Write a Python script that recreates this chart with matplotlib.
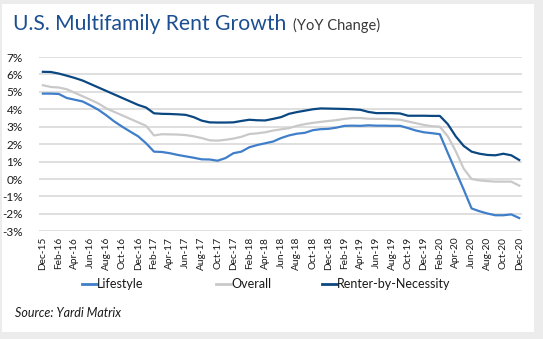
import matplotlib
matplotlib.use("Agg")
import matplotlib.pyplot as plt
from matplotlib.patches import Rectangle
from matplotlib.lines import Line2D

# Monthly YoY rent growth (%), Dec-15 .. Dec-20
month_names = ["Jan", "Feb", "Mar", "Apr", "May", "Jun",
               "Jul", "Aug", "Sep", "Oct", "Nov", "Dec"]
month_labels = ["Dec-15"] + [f"{m}-{y}" for y in range(16, 21) for m in month_names]

lifestyle = [4.90, 4.90, 4.88, 4.65, 4.55, 4.45, 4.22, 3.97, 3.65, 3.30,
             3.00, 2.72, 2.45, 2.05, 1.57, 1.55, 1.48, 1.38, 1.30, 1.22,
             1.13, 1.12, 1.05, 1.20, 1.48, 1.57, 1.82, 1.95, 2.05, 2.15,
             2.35, 2.50, 2.60, 2.65, 2.80, 2.86, 2.88, 2.95, 3.05, 3.06,
             3.05, 3.08, 3.06, 3.06, 3.05, 3.05, 2.92, 2.78, 2.68, 2.63,
             2.57, 1.50, 0.45, -0.60, -1.69, -1.85, -1.98, -2.08, -2.08, -2.03,
             -2.24]

overall = [5.38, 5.28, 5.25, 5.15, 4.95, 4.75, 4.55, 4.33, 4.05, 3.85,
           3.65, 3.45, 3.25, 3.05, 2.50, 2.57, 2.56, 2.55, 2.52, 2.45,
           2.35, 2.22, 2.20, 2.25, 2.32, 2.42, 2.58, 2.62, 2.68, 2.78,
           2.85, 2.92, 3.05, 3.15, 3.22, 3.28, 3.33, 3.38, 3.45, 3.50,
           3.50, 3.46, 3.45, 3.45, 3.43, 3.40, 3.30, 3.20, 3.10, 3.03,
           3.00, 2.45, 1.60, 0.60, 0.00, -0.08, -0.12, -0.15, -0.15, -0.15,
           -0.38]

renter_by_necessity = [6.15, 6.14, 6.05, 5.93, 5.80, 5.65, 5.45, 5.25, 5.05, 4.85,
                       4.65, 4.45, 4.25, 4.10, 3.77, 3.74, 3.73, 3.71, 3.68, 3.55,
                       3.35, 3.25, 3.24, 3.24, 3.25, 3.33, 3.40, 3.37, 3.36, 3.45,
                       3.55, 3.74, 3.84, 3.92, 4.00, 4.05, 4.04, 4.03, 4.02, 4.00,
                       3.97, 3.85, 3.78, 3.78, 3.78, 3.76, 3.63, 3.63, 3.63, 3.62,
                       3.62, 3.15, 2.45, 1.90, 1.57, 1.45, 1.38, 1.36, 1.45, 1.36,
                       1.09]

y_ticks = list(range(-3, 8))

series = [
    ("Lifestyle", lifestyle, "#3f7fca"),
    ("Overall", overall, "#c9c9c9"),
    ("Renter-by-Necessity", renter_by_necessity, "#0b4882"),
]

W, H = 543, 339
plt.rcParams["font.family"] = ["Lato", "DejaVu Sans"]

fig = plt.figure(figsize=(W / 100, H / 100), dpi=100)
fig.patch.set_facecolor("#ececec")

# white card with a soft shadow edge
fig.add_artist(Rectangle((2 / W, 1 - 332 / H), 532 / W, 328 / H,
                         transform=fig.transFigure, facecolor="white",
                         edgecolor="none", zorder=0))

ax = fig.add_axes([39.3 / W, 1 - 231.3 / H, (522 - 39.3) / W, (231.3 - 57) / H])
ax.set_facecolor("none")

x = list(range(len(month_labels)))
for name, vals, col in series:
    ax.plot(x, vals, color=col, lw=1.6, solid_joinstyle="round", zorder=3)

ax.set_xlim(-0.45, 60.35)
ax.set_ylim(-3, 7)
ax.set_yticks(y_ticks)
ax.set_yticklabels([f"{v}%" for v in y_ticks])
ax.yaxis.grid(True, color="#dcdcdc", lw=1.3)
ax.set_axisbelow(True)
for s in ax.spines.values():
    s.set_visible(False)
ax.tick_params(axis="y", length=0, pad=12, labelsize=8.5, labelcolor="#1a1a1a")
ax.set_xticks(x[::2])
ax.set_xticklabels(month_labels[::2], rotation=90, fontsize=7.3, color="#1a1a1a")
ax.tick_params(axis="x", length=0, pad=4)

# title
fig.text(13 / W, 1 - 24 / H, "U.S. Multifamily Rent Growth", fontsize=15.2,
         color="#1b4f91", va="center", ha="left")
fig.text(293 / W, 1 - 25 / H, "(YoY Change)", fontsize=10.5,
         color="#3a3a3a", va="center", ha="left")

# legend entries
legend_x = [82, 216, 322]
for (name, vals, col), lx in zip(series, legend_x):
    h = Line2D([], [], color=col, lw=2)
    fig.legend(handles=[h], labels=[name], loc="center left",
               bbox_to_anchor=(lx / W, 1 - 284 / H), frameon=False,
               handlelength=1.2, handletextpad=0.0, borderpad=0,
               borderaxespad=0, fontsize=9, labelcolor="#1a1a1a")

fig.text(15 / W, 1 - 313 / H, "Source: Yardi Matrix", fontsize=9,
         style="italic", color="#1a1a1a", va="center", ha="left")

fig.savefig("out.png", dpi=100, facecolor=fig.get_facecolor())
